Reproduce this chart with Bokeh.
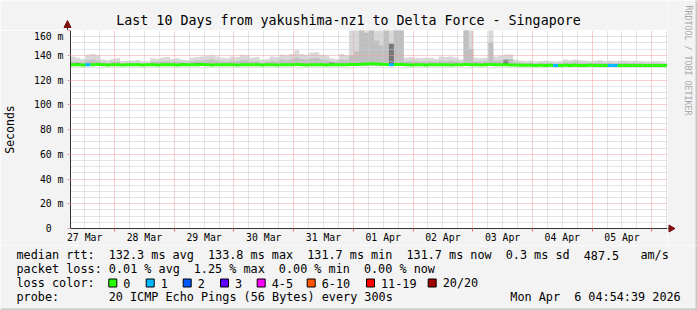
import re
from bokeh.plotting import figure
from bokeh.layouts import column, row
from bokeh.models import FixedTicker, Label, ColumnDataSource, Range1d
from bokeh.embed import file_html
from bokeh.resources import INLINE

MONO = "DejaVu Sans Mono"
BG = "#f3f3f3"

# ---------------- texts ----------------
TITLE = "Last 10 Days from yakushima-nz1 to Delta Force - Singapore"
Y_LABEL = "Seconds"
CREDIT = "RRDTOOL / TOBI OETIKER"
DAY_LABELS = ["27 Mar", "28 Mar", "29 Mar", "30 Mar", "31 Mar",
              "01 Apr", "02 Apr", "03 Apr", "04 Apr", "05 Apr"]
Y_TICKS = [0, 20, 40, 60, 80, 100, 120, 140, 160]
Y_TICK_LABELS = ["0\u00a0\u00a0", "20 m", "40 m", "60 m", "80 m",
                 "100 m", "120 m", "140 m", "160 m"]

RTT_ROW = "median rtt:  132.3 ms avg  133.8 ms max  131.7 ms min  131.7 ms now  0.3 ms sd  487.5   am/s"
LOSS_ROW = "packet loss: 0.01 % avg  1.25 % max  0.00 % min  0.00 % now"
LOSS_COLOR_TITLE = "loss color:"
PROBE_TITLE = "probe:"
PROBE_TEXT = "20 ICMP Echo Pings (56 Bytes) every 300s"
DATE_TEXT = "Mon Apr  6 04:54:39 2026"

LOSS_NAMES = ["0", "1", "2", "3", "4-5", "6-10", "11-19", "20/20"]
LOSS_LIMITS = [0, 1, 2, 3, 5, 10, 19, 20]
LOSS_COLORS = ["#26ff00", "#00b8ff", "#0059ff", "#5e00ff",
               "#ff00ff", "#ff5500", "#ff0000", "#a10000"]

# ---------------- data (2 h bins over 10 days) ----------------
SPAN_HOURS = 240
BIN_HOURS = 2
FIRST_MIDNIGHT_H = 17.7
SMOKE_FLOOR = 131.5

SMOKE_HI = [
    139.0, 138.0, 137.0, 140.5, 141.0, 140.0, 136.5, 136.0, 137.0, 137.5,
    135.0, 135.5, 135.5, 136.0, 135.0, 134.5, 137.5, 137.0, 138.0, 138.5,
    137.0, 137.5, 136.5, 136.0, 138.0, 138.5, 139.0, 139.5, 140.0, 139.0,
    138.0, 137.5, 139.0, 138.5, 140.5, 140.0, 138.0, 138.5, 136.5, 137.0,
    139.0, 138.5, 140.6, 140.0, 141.0, 144.0, 141.0, 140.5, 142.0, 142.5,
    140.5, 140.0, 137.5, 137.0, 141.0, 140.0, 175.0, 175.0, 175.0, 175.0,
    175.0, 175.0, 175.0, 175.0, 175.0, 175.0, 175.0, 138.0, 138.5, 138.0,
    137.5, 138.0, 138.0, 137.0, 139.0, 138.5, 139.0, 138.0, 136.5, 175.0,
    175.0, 138.0, 137.5, 138.0, 175.0, 139.0, 139.5, 140.5, 140.6, 136.5,
    135.5, 135.0, 135.5, 134.5, 135.0, 135.5, 135.0, 134.5, 135.0, 136.5,
    136.0, 136.5, 136.0, 135.5, 135.0, 135.5, 136.0, 135.0, 135.5, 135.0,
    135.5, 135.5, 135.0, 135.5, 135.0, 134.5, 134.5, 135.0, 134.5, 134.0,
]
SMOKE_MID = [
    135.0, 134.5, 134.0, 136.0, 136.5, 135.5, 134.0, 133.8, 134.5, 134.5,
    133.5, 133.8, 134.0, 134.0, 133.6, 133.5, 134.5, 134.5, 135.0, 135.0,
    134.5, 134.8, 134.2, 134.0, 135.0, 135.5, 135.5, 136.0, 136.5, 135.5,
    135.0, 134.5, 135.5, 135.0, 136.0, 136.0, 135.0, 135.0, 134.0, 134.5,
    135.5, 135.0, 136.5, 136.0, 136.5, 138.0, 137.0, 136.5, 137.5, 138.0,
    136.5, 136.0, 134.5, 134.5, 136.5, 136.0, 140.0, 143.0, 175.0, 158.0,
    175.0, 152.0, 148.0, 175.0, 150.0, 175.0, 162.0, 135.0, 135.5, 135.0,
    134.5, 135.0, 135.0, 134.5, 135.5, 135.0, 135.5, 135.0, 134.0, 175.0,
    145.0, 135.0, 134.5, 135.0, 150.0, 135.5, 136.0, 137.0, 137.0, 134.0,
    133.8, 133.5, 133.8, 133.4, 133.5, 133.8, 133.5, 133.4, 133.5, 134.2,
    134.0, 134.3, 134.0, 133.8, 133.5, 133.8, 134.0, 133.5, 133.8, 133.5,
    133.8, 133.8, 133.5, 133.8, 133.5, 133.4, 133.4, 133.5, 133.4, 133.3,
]
MEDIAN = [
    132.3, 132.4, 132.2, 132.3, 132.3, 132.5, 132.3, 132.2, 132.3, 132.3,
    132.2, 132.3, 132.3, 132.4, 132.2, 132.3, 132.3, 132.2, 132.4, 132.3,
    132.3, 132.2, 132.3, 132.4, 132.3, 132.3, 132.5, 132.3, 132.2, 132.3,
    132.3, 132.4, 132.3, 132.2, 132.3, 132.3, 132.4, 132.3, 132.2, 132.3,
    132.3, 132.2, 132.3, 132.4, 132.3, 132.6, 132.3, 132.2, 132.4, 132.3,
    132.3, 132.2, 132.3, 132.3, 132.4, 132.3, 132.5, 132.6, 132.8, 133.0,
    133.2, 132.9, 132.7, 132.6, 132.4, 132.6, 132.5, 132.3, 132.2, 132.3,
    132.3, 132.2, 132.3, 132.4, 132.3, 132.3, 132.2, 132.3, 132.3, 132.6,
    132.4, 132.3, 132.2, 132.3, 132.5, 132.3, 132.4, 132.3, 132.2, 132.1,
    132.0, 131.9, 131.9, 131.8, 131.9, 131.8, 131.9, 131.8, 131.8, 131.9,
    131.8, 131.9, 131.8, 131.8, 131.9, 131.8, 131.8, 131.7, 131.8, 131.8,
    131.7, 131.8, 131.7, 131.8, 131.7, 131.8, 131.7, 131.7, 131.7, 131.7,
]
LOSS = [
    0, 0, 0, 1, 0, 0, 0, 0, 0, 0,
    0, 0, 0, 0, 0, 0, 0, 0, 0, 0,
    0, 0, 0, 0, 0, 0, 0, 0, 0, 0,
    0, 0, 0, 0, 0, 0, 0, 0, 0, 0,
    0, 0, 0, 0, 0, 0, 0, 0, 0, 0,
    0, 0, 0, 0, 0, 0, 0, 0, 0, 0,
    0, 0, 0, 0, 1, 0, 0, 0, 0, 0,
    0, 0, 0, 0, 0, 0, 0, 0, 0, 0,
    0, 0, 0, 0, 0, 0, 0, 0, 0, 0,
    0, 0, 0, 0, 0, 0, 0, 1, 0, 0,
    0, 0, 0, 0, 0, 0, 0, 0, 1, 1,
    0, 0, 0, 0, 0, 0, 0, 0, 0, 0,
]
DARK_BINS = [1, 22, 25, 52, 64, 87]
DARK_TOP = [133.8, 133.6, 133.8, 134.0, 149.0, 136.0]

# ---------------- layout ----------------
W, H = 697, 310
FL, FT, FW, FH = 67, 30, 600, 198      # plot frame in page pixels
AXIS_H = 17                            # x label band under the frame
RIGHT_W = W - FL - FW                  # 30
LEG_H = H - FT - FH - AXIS_H           # 65
AXIS_COLOR = "#333333"
ARROW_COLOR = "#7f1010"


def loss_color(n):
    for lim, c in zip(LOSS_LIMITS, LOSS_COLORS):
        if n <= lim:
            return c
    return LOSS_COLORS[-1]


def canvas_fig(w, h):
    f = figure(width=w, height=h, output_backend="svg", toolbar_location=None,
               x_range=Range1d(0, w), y_range=Range1d(h, 0),
               x_axis_type=None, y_axis_type=None, min_border=0)
    f.grid.visible = False
    f.background_fill_color = BG
    f.border_fill_color = BG
    f.outline_line_color = None
    return f


def add_text(f, txt, x, y, size, align="left", angle=0.0, color="#000000"):
    f.add_layout(Label(x=x, y=y, text=txt, text_font=MONO, text_font_size=size,
                       text_align=align, text_baseline="middle", angle=angle,
                       text_color=color))


# ---------------- main chart ----------------
p = figure(width=FL + FW, height=FH + AXIS_H, output_backend="svg",
           toolbar_location=None, x_range=Range1d(0, SPAN_HOURS),
           y_range=Range1d(0, 160), min_border_left=FL, min_border_right=0,
           min_border_top=0, min_border_bottom=AXIS_H)
p.background_fill_color = "#ffffff"
p.border_fill_color = BG
p.outline_line_color = None

n = len(MEDIAN)
left = [i * BIN_HOURS for i in range(n)]
right = [(i + 1) * BIN_HOURS for i in range(n)]
edges = left + [SPAN_HOURS]
smoke = ColumnDataSource(dict(x=edges, lo=[SMOKE_FLOOR] * (n + 1),
                              hi=SMOKE_HI + [SMOKE_HI[-1]],
                              mid=SMOKE_MID + [SMOKE_MID[-1]]))
p.varea_step(x="x", y1="lo", y2="hi", source=smoke, step_mode="after",
             fill_color="#d8d8d8", level="image")
p.varea_step(x="x", y1="lo", y2="mid", source=smoke, step_mode="after",
             fill_color="#bfbfbf", level="image")
dsrc = ColumnDataSource(dict(left=[left[i] for i in DARK_BINS],
                             right=[right[i] for i in DARK_BINS],
                             bottom=[MEDIAN[i] for i in DARK_BINS],
                             top=DARK_TOP))
p.quad(left="left", right="right", bottom="bottom", top="top", source=dsrc,
       fill_color="#777777", line_color=None, level="image")
med = ColumnDataSource(dict(left=left, right=right, med=MEDIAN,
                            color=[loss_color(v) for v in LOSS]))
p.segment(x0="left", x1="right", y0="med", y1="med", line_color="color",
          line_width=3, source=med)

midnights = [FIRST_MIDNIGHT_H + 24 * k for k in range(10)]
six_hours = [FIRST_MIDNIGHT_H + 6 * k for k in range(-2, 40)]
six_hours = [h for h in six_hours if 0 < h < SPAN_HOURS and
             all(abs(h - m) > 0.1 for m in midnights)]
noons = [FIRST_MIDNIGHT_H - 12 + 24 * k for k in range(10)]

p.xgrid.ticker = FixedTicker(ticks=midnights, minor_ticks=six_hours)
p.ygrid.ticker = FixedTicker(ticks=Y_TICKS,
                             minor_ticks=[v for v in range(0, 161, 5) if v % 20])
for g in (p.xgrid, p.ygrid):
    g.grid_line_color = "#f0a0a0"
    g.grid_line_dash = "1 1"
    g.minor_grid_line_color = "#c8c8c8"
    g.minor_grid_line_dash = "1 1"

p.yaxis.ticker = FixedTicker(ticks=Y_TICKS)
p.yaxis.major_label_overrides = dict(zip(Y_TICKS, Y_TICK_LABELS))
p.xaxis.ticker = FixedTicker(ticks=noons, minor_ticks=midnights)
p.xaxis.major_label_overrides = dict(zip(noons, DAY_LABELS))
for ax in (p.xaxis, p.yaxis):
    ax.axis_line_color = AXIS_COLOR
    ax.major_label_text_font = MONO
    ax.major_label_text_font_size = "9.8px"
    ax.major_label_text_color = "#000000"
p.yaxis.minor_tick_line_color = None
p.yaxis.major_tick_in = 0
p.yaxis.major_tick_out = 3
p.yaxis.major_tick_line_color = "#e8a0a0"
p.yaxis.major_label_standoff = 4
p.yaxis.axis_label = Y_LABEL
p.yaxis.axis_label_text_font = MONO
p.yaxis.axis_label_text_font_size = "11.5px"
p.yaxis.axis_label_text_font_style = "normal"
p.yaxis.axis_label_text_color = "#000000"
p.yaxis.axis_label_standoff = 14
p.xaxis.major_tick_line_color = None
p.xaxis.major_tick_out = 0
p.xaxis.minor_tick_in = 0
p.xaxis.minor_tick_out = 3
p.xaxis.minor_tick_line_color = "#e07070"
p.xaxis.major_label_standoff = 0

# ---------------- top band: title and y-axis arrow ----------------
top = canvas_fig(FL + FW, FT)
add_text(top, TITLE, 348, 19.5, "13.3px", align="center")
top.segment(x0=[FL], y0=[FT], x1=[FL], y1=[24], line_color=AXIS_COLOR, line_width=1)
top.patch(x=[FL - 3.5, FL, FL + 3.5], y=[27, 20, 27], fill_color=ARROW_COLOR,
          line_color=ARROW_COLOR)

# ---------------- right band: credit and x-axis arrow ----------------
side = canvas_fig(RIGHT_W, FT + FH + AXIS_H)
add_text(side, CREDIT, 21, 5, "8.3px", align="left", angle=-1.5708, color="#a8a8a8")
side.segment(x0=[0], y0=[FT + FH], x1=[3], y1=[FT + FH], line_color=AXIS_COLOR, line_width=1)
side.patch(x=[1.5, 7.5, 1.5], y=[FT + FH - 3.5, FT + FH, FT + FH + 3.5],
           fill_color=ARROW_COLOR, line_color=ARROW_COLOR)
side.segment(x0=[RIGHT_W - 1], y0=[0], x1=[RIGHT_W - 1], y1=[FT + FH + AXIS_H],
             line_color="#c8c8c8", line_width=2)

# ---------------- bottom band: legend ----------------
leg = canvas_fig(W, LEG_H)
Y0 = FT + FH + AXIS_H
CW = 7.09
X0 = 16


def add_row(txt, py, start_px=X0):
    for m in re.finditer(r"\S+(?: \S+)*", txt):
        add_text(leg, m.group(0), start_px + m.start() * CW, py - Y0, "11.8px")


add_row(RTT_ROW, 254.5)
add_row(LOSS_ROW, 268.5)
add_row(LOSS_COLOR_TITLE, 282.5)
add_row(PROBE_TITLE, 296.5)
add_row(PROBE_TEXT, 296.5, start_px=X0 + 13 * CW)
add_row(DATE_TEXT, 296.5, start_px=680 - len(DATE_TEXT) * CW)

BOX_PX = [108.3, 145.7, 182.7, 220.0, 256.7, 306.7, 366.0, 427.7]
boxes = ColumnDataSource(dict(left=BOX_PX, right=[b + 8 for b in BOX_PX],
                              top=[278.5 - Y0] * len(BOX_PX),
                              bottom=[286.5 - Y0] * len(BOX_PX),
                              color=LOSS_COLORS))
leg.quad(left="left", right="right", top="top", bottom="bottom", source=boxes,
         fill_color="color", line_color="#000000", line_width=1)
for bx, name in zip(BOX_PX, LOSS_NAMES):
    add_text(leg, name, bx + 14.5, 282.5 - Y0, "11.8px")
leg.segment(x0=[0, W - 1], y0=[LEG_H - 1, 0], x1=[W, W - 1], y1=[LEG_H - 1, LEG_H],
            line_color="#c8c8c8", line_width=2)

layout = column(row(column(row(top, spacing=0), p, spacing=0), side, spacing=0),
                leg, spacing=0)
open("out.html", "w").write(file_html(layout, INLINE))
